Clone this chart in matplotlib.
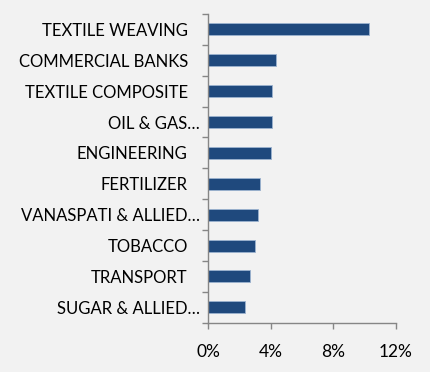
import matplotlib
matplotlib.use("Agg")
import matplotlib.pyplot as plt
import matplotlib.transforms as mtransforms
import numpy as np

categories = ["TEXTILE WEAVING", "COMMERCIAL BANKS", "TEXTILE COMPOSITE", "OIL & GAS\u2026",
              "ENGINEERING", "FERTILIZER", "VANASPATI & ALLIED\u2026", "TOBACCO",
              "TRANSPORT", "SUGAR & ALLIED\u2026"]
values = [10.26, 4.36, 4.08, 4.08, 4.04, 3.31, 3.19, 2.99, 2.68, 2.37]
xticks = [0, 4, 8, 12]
xticklabels = ["0%", "4%", "8%", "12%"]

plt.rcParams['font.family'] = ['Lato', 'DejaVu Sans']
bg = "#f2f2f2"
fig = plt.figure(figsize=(4.3, 3.72), dpi=100, facecolor=bg)
ax = fig.add_axes([208/430, 1-322.7/372, 188/430, (322.7-14)/372], facecolor=bg)

n = len(categories)
y = np.arange(n)
ax.barh(y, values, height=0.39, color="#1f497d", edgecolor="#9cb3d0", linewidth=0.6)
ax.set_ylim(n-0.5, -0.5)
ax.set_xlim(0, 12)

for s in ["top", "right"]:
    ax.spines[s].set_visible(False)
for s in ["left", "bottom"]:
    ax.spines[s].set_color("#868686")
    ax.spines[s].set_linewidth(1.0)

ax.set_yticks(y)
ax.set_yticklabels(categories, fontsize=12, color="#000000")
ax.tick_params(axis="y", which="major", length=0, pad=14.5)
ax.set_yticks(np.arange(-0.5, n, 1), minor=True)
ax.tick_params(axis="y", which="minor", length=4.5, width=1.0, color="#868686", direction="out")

for lbl in ax.get_yticklabels():
    if lbl.get_text().endswith("\u2026"):
        lbl.set_transform(lbl.get_transform() + mtransforms.ScaledTranslation(12/100, 0, fig.dpi_scale_trans))

ax.set_xticks(xticks)
ax.set_xticklabels(xticklabels, fontsize=12.5, color="#000000")
ax.tick_params(axis="x", length=4.5, width=1.0, color="#868686", direction="out", pad=10.5)

fig.savefig("out.png", dpi=100, facecolor=bg)
